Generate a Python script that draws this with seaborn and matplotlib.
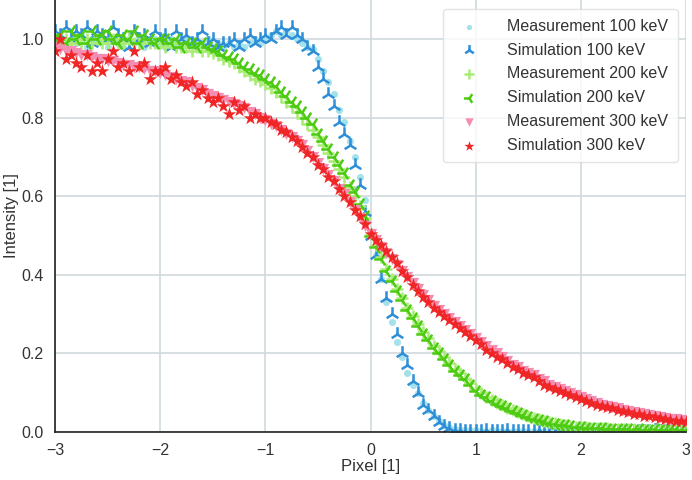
import numpy as np
import pandas as pd
import matplotlib
matplotlib.use('Agg')
import matplotlib.pyplot as plt
import seaborn as sns

# pixel positions (sampling grid of the line profile)
pixel = np.round(np.linspace(-3, 3, 121), 2)

meas_100 = [
    0.99, 1.00, 0.98, 1.00, 0.99, 1.01, 0.98, 1.00, 0.99, 1.00,
    0.98, 1.00, 0.99, 0.98, 1.00, 0.99, 1.00, 0.98, 0.99, 1.00,
    0.99, 0.98, 1.00, 0.99, 0.98, 1.00, 0.99, 0.98, 0.99, 1.00,
    0.98, 0.99, 0.98, 0.99, 0.98, 0.99, 0.98, 0.99, 1.00, 0.99,
    1.00, 1.01, 1.02, 1.01, 1.02, 1.01, 1.00, 0.99, 0.98, 0.975,
    0.95, 0.92, 0.89, 0.86, 0.82, 0.79, 0.74, 0.70, 0.65, 0.59,
    0.51, 0.45, 0.39, 0.33, 0.28, 0.23, 0.19, 0.15, 0.12, 0.10,
    0.075, 0.055, 0.04, 0.028, 0.018, 0.012, 0.008, 0.006, 0.005, 0.004,
    0.004, 0.003, 0.003, 0.004, 0.003, 0.003, 0.002, 0.003, 0.003, 0.002,
    0.003, 0.002, 0.003, 0.003, 0.002, 0.003, 0.002, 0.002, 0.003, 0.002,
    0.002, 0.003, 0.002, 0.002, 0.003, 0.002, 0.002, 0.002, 0.003, 0.002,
    0.002, 0.002, 0.003, 0.002, 0.002, 0.002, 0.002, 0.003, 0.002, 0.002,
    0.002,
]

sim_100 = [
    1.02, 1.01, 1.03, 1.00, 1.02, 1.01, 1.03, 0.99, 1.02, 1.01,
    1.00, 1.03, 1.01, 1.00, 0.98, 1.02, 1.00, 1.01, 0.99, 1.02,
    1.00, 1.01, 0.98, 1.02, 1.00, 1.01, 0.99, 1.00, 1.02, 0.99,
    1.00, 0.98, 0.99, 0.99, 1.00, 0.98, 1.00, 1.01, 0.99, 1.00,
    1.01, 1.00, 1.02, 1.03, 1.01, 1.03, 1.01, 1.00, 0.98, 0.97,
    0.93, 0.90, 0.86, 0.83, 0.79, 0.76, 0.73, 0.68, 0.63, 0.56,
    0.50, 0.45, 0.39, 0.34, 0.30, 0.25, 0.20, 0.17, 0.13, 0.10,
    0.07, 0.055, 0.04, 0.025, 0.015, 0.01, 0.005, 0.004, 0.003, 0.003,
    0.003, 0.002, 0.004, 0.003, 0.002, 0.003, 0.004, 0.002, 0.003, 0.003,
    0.002, 0.003, 0.004, 0.002, 0.003, 0.002, 0.003, 0.004, 0.002, 0.003,
    0.003, 0.002, 0.003, 0.004, 0.002, 0.003, 0.002, 0.003, 0.002, 0.003,
    0.002, 0.003, 0.002, 0.003, 0.004, 0.002, 0.003, 0.002, 0.003, 0.002,
    0.003,
]

meas_200 = [
    1.00, 0.99, 1.00, 0.99, 1.00, 0.99, 1.00, 0.99, 1.00, 0.99,
    0.99, 1.00, 0.99, 0.99, 1.00, 0.99, 0.99, 1.00, 0.99, 0.99,
    0.99, 0.98, 0.99, 0.98, 0.98, 0.98, 0.97, 0.98, 0.97, 0.97,
    0.965, 0.96, 0.95, 0.945, 0.94, 0.93, 0.92, 0.91, 0.90, 0.895,
    0.885, 0.875, 0.865, 0.855, 0.84, 0.83, 0.815, 0.80, 0.785, 0.77,
    0.75, 0.73, 0.71, 0.69, 0.67, 0.65, 0.625, 0.60, 0.575, 0.545,
    0.505, 0.475, 0.445, 0.415, 0.39, 0.365, 0.34, 0.315, 0.295, 0.275,
    0.255, 0.24, 0.22, 0.205, 0.19, 0.175, 0.16, 0.15, 0.135, 0.125,
    0.11, 0.10, 0.09, 0.082, 0.075, 0.068, 0.062, 0.056, 0.05, 0.045,
    0.04, 0.036, 0.032, 0.028, 0.025, 0.022, 0.02, 0.018, 0.016, 0.014,
    0.013, 0.012, 0.011, 0.01, 0.009, 0.009, 0.008, 0.008, 0.007, 0.007,
    0.007, 0.006, 0.006, 0.006, 0.006, 0.005, 0.005, 0.005, 0.005, 0.005,
    0.005,
]

sim_200 = [
    1.00, 1.01, 0.99, 1.02, 1.00, 1.01, 0.99, 1.02, 1.00, 1.01,
    1.02, 1.00, 0.99, 1.01, 1.00, 1.02, 0.99, 1.01, 1.00, 0.99,
    1.00, 1.00, 0.99, 1.00, 0.98, 0.99, 0.99, 0.98, 0.99, 0.98,
    0.975, 0.97, 0.96, 0.955, 0.95, 0.94, 0.93, 0.925, 0.915, 0.91,
    0.90, 0.89, 0.88, 0.865, 0.855, 0.84, 0.83, 0.815, 0.80, 0.785,
    0.76, 0.74, 0.72, 0.70, 0.68, 0.66, 0.63, 0.61, 0.58, 0.55,
    0.50, 0.47, 0.44, 0.41, 0.385, 0.36, 0.335, 0.31, 0.29, 0.27,
    0.25, 0.235, 0.215, 0.20, 0.185, 0.17, 0.155, 0.145, 0.135, 0.12,
    0.105, 0.095, 0.088, 0.08, 0.072, 0.066, 0.06, 0.054, 0.048, 0.043,
    0.038, 0.034, 0.03, 0.027, 0.024, 0.021, 0.019, 0.017, 0.015, 0.013,
    0.012, 0.011, 0.010, 0.009, 0.009, 0.008, 0.008, 0.007, 0.007, 0.007,
    0.006, 0.007, 0.006, 0.006, 0.007, 0.006, 0.006, 0.006, 0.007, 0.006,
    0.006,
]

meas_300 = [
    0.98, 0.975, 0.97, 0.97, 0.965, 0.96, 0.96, 0.955, 0.95, 0.95,
    0.945, 0.945, 0.94, 0.935, 0.935, 0.93, 0.93, 0.925, 0.92, 0.92,
    0.915, 0.91, 0.905, 0.90, 0.895, 0.89, 0.88, 0.875, 0.87, 0.86,
    0.855, 0.85, 0.845, 0.84, 0.835, 0.83, 0.825, 0.815, 0.81, 0.80,
    0.795, 0.785, 0.78, 0.77, 0.76, 0.75, 0.74, 0.73, 0.715, 0.70,
    0.685, 0.67, 0.655, 0.64, 0.62, 0.605, 0.585, 0.565, 0.545, 0.525,
    0.505, 0.49, 0.47, 0.455, 0.44, 0.425, 0.41, 0.395, 0.38, 0.365,
    0.35, 0.335, 0.32, 0.31, 0.30, 0.29, 0.28, 0.27, 0.26, 0.25,
    0.24, 0.23, 0.22, 0.21, 0.20, 0.19, 0.18, 0.17, 0.165, 0.155,
    0.15, 0.145, 0.135, 0.13, 0.12, 0.115, 0.11, 0.105, 0.10, 0.095,
    0.09, 0.085, 0.08, 0.075, 0.07, 0.067, 0.063, 0.06, 0.057, 0.053,
    0.05, 0.048, 0.045, 0.043, 0.04, 0.038, 0.036, 0.034, 0.032, 0.03,
    0.028,
]

sim_300 = [
    0.97, 1.00, 0.95, 0.96, 0.94, 0.93, 0.96, 0.92, 0.94, 0.92,
    0.95, 0.97, 0.93, 0.94, 0.92, 0.97, 0.93, 0.94, 0.90, 0.92,
    0.92, 0.93, 0.90, 0.91, 0.89, 0.88, 0.89, 0.86, 0.87, 0.85,
    0.84, 0.85, 0.83, 0.81, 0.84, 0.82, 0.83, 0.80, 0.81, 0.80,
    0.80, 0.79, 0.785, 0.77, 0.765, 0.75, 0.74, 0.725, 0.71, 0.70,
    0.68, 0.67, 0.65, 0.64, 0.62, 0.60, 0.585, 0.565, 0.55, 0.53,
    0.505, 0.49, 0.475, 0.46, 0.445, 0.43, 0.41, 0.395, 0.375, 0.36,
    0.345, 0.33, 0.315, 0.305, 0.295, 0.285, 0.275, 0.265, 0.255, 0.245,
    0.235, 0.225, 0.21, 0.20, 0.19, 0.185, 0.175, 0.165, 0.16, 0.15,
    0.145, 0.14, 0.13, 0.12, 0.115, 0.11, 0.105, 0.10, 0.095, 0.09,
    0.085, 0.08, 0.075, 0.07, 0.067, 0.064, 0.06, 0.057, 0.054, 0.05,
    0.047, 0.045, 0.042, 0.04, 0.037, 0.035, 0.033, 0.031, 0.029, 0.027,
    0.025,
]

series = [
    ('Measurement 100 keV', meas_100, 'o', '#a3e2ea', 26),
    ('Simulation 100 keV', sim_100, '2', '#2e8fd8', 110),
    ('Measurement 200 keV', meas_200, '+', '#a8ec74', 80),
    ('Simulation 200 keV', sim_200, '3', '#4ccb12', 110),
    ('Measurement 300 keV', meas_300, 'v', '#f58cb2', 65),
    ('Simulation 300 keV', sim_300, '*', '#f02626', 105),
]

sns.set_theme(style='whitegrid')
plt.rcParams['font.family'] = ['Liberation Sans', 'DejaVu Sans']

fig = plt.figure(figsize=(6.92, 4.8), dpi=100)
ax = fig.add_axes([0.0795, 0.1, 0.912, 0.9])

for label, vals, marker, color, size in series:
    df = pd.DataFrame({'pixel': pixel, 'intensity': vals})
    lw = 1.8 if marker in ('2', '3', '+') else 0
    sns.scatterplot(data=df, x='pixel', y='intensity', marker=marker, color=color,
                    s=size, linewidth=lw, edgecolor=color if lw == 0 else None,
                    label=label, ax=ax, clip_on=True)

ax.set_xlim(-3, 3)
ax.set_ylim(0, 1.1)
ax.set_xticks([-3, -2, -1, 0, 1, 2, 3])
ax.set_yticks([0.0, 0.2, 0.4, 0.6, 0.8, 1.0])
ax.set_xlabel('Pixel [1]', fontsize=12, color='#333333', labelpad=1)
ax.set_ylabel('Intensity [1]', fontsize=12, color='#333333', labelpad=2)
ax.tick_params(axis='both', labelsize=11.5, colors='#333333', pad=2)
ax.grid(color='#cfd9de', linewidth=1.2)

for side in ['top', 'right']:
    ax.spines[side].set_visible(False)
for side in ['left', 'bottom']:
    ax.spines[side].set_color('#222222')
    ax.spines[side].set_linewidth(1.2)

leg = ax.legend(loc='upper right', bbox_to_anchor=(0.999, 0.997), fontsize=11.5,
                frameon=True, fancybox=True, borderpad=0.6, labelspacing=0.55,
                handletextpad=1.4, markerscale=0.75)
leg.get_frame().set_edgecolor('#dddddd')
for t in leg.get_texts():
    t.set_color('#333333')

fig.savefig('out.png', dpi=100)
